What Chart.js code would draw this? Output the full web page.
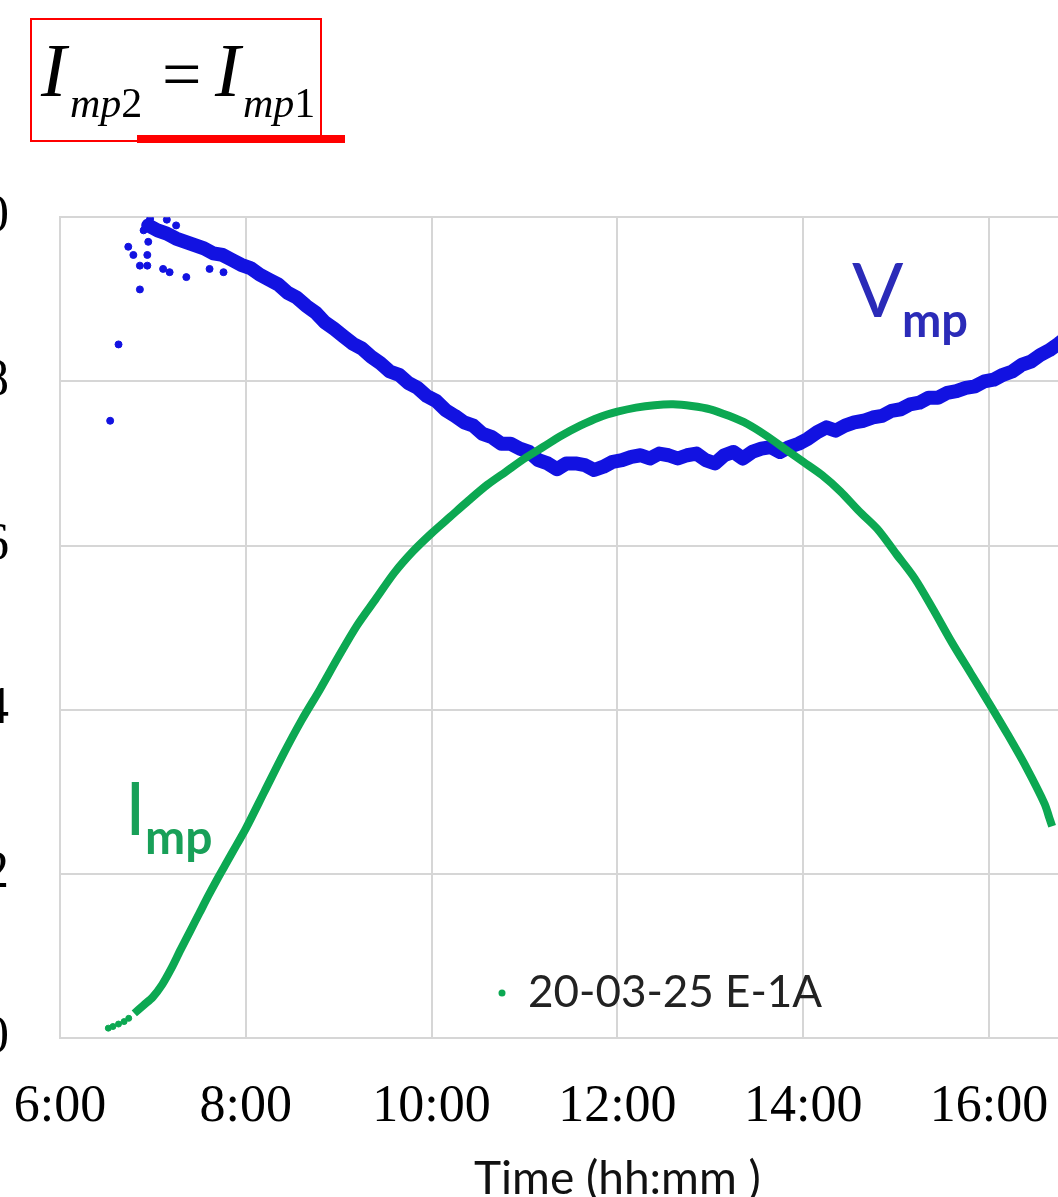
<!DOCTYPE html>
<html>
<head>
<meta charset="utf-8">
<script src="https://cdn.jsdelivr.net/npm/chart.js@4"></script>
<style>
  html, body { margin: 0; padding: 0; background: #fff; overflow: hidden; width: 1058px; height: 1197px; }
  body { position: relative; }
  #c { position: absolute; left: -40px; top: 135px; }
  .t { position: absolute; line-height: 1; white-space: nowrap; }
  .serif { font-family: "Liberation Serif", "DejaVu Serif", serif; color: #000; }
  .sans { font-family: Lato, "Open Sans", sans-serif; }
  #box { position: absolute; left: 30px; top: 18px; width: 288px; height: 120px; border: 2px solid #ff0000; }
  #under { position: absolute; left: 137px; top: 135px; width: 208px; height: 8px; background: #ff0000; }
</style>
</head>
<body>
<canvas id="c" width="1312" height="1103"></canvas>

<div id="box"></div>
<div id="under"></div>
<span class="t serif" style="left:41px; top:32px; font-size:76px; font-style:italic;">I</span>
<span class="t serif" style="left:70px; top:82px; font-size:42px;"><i>mp</i>2</span>
<span class="t serif" style="left:162px; top:40px; font-size:70px;">=</span>
<span class="t serif" style="left:215px; top:32px; font-size:76px; font-style:italic;">I</span>
<span class="t serif" style="left:243px; top:82px; font-size:42px;"><i>mp</i>1</span>

<span class="t sans" style="left:852px; top:250px; font-size:76px; color:#2b2bb8;">V</span>
<span class="t sans" style="left:902px; top:296px; font-size:47px; font-weight:bold; color:#2b2bb8;">mp</span>
<span class="t sans" style="left:125px; top:770px; font-size:74px; color:#18a058;">I</span>
<span class="t sans" style="left:145px; top:812px; font-size:48px; font-weight:bold; color:#18a058;">mp</span>

<script>
// V_mp (blue band), time in decimal hours
const vmpTime = [6.95, 7.05, 7.15, 7.25, 7.35, 7.45, 7.55, 7.65, 7.75, 7.85, 7.95,
  8.05, 8.15, 8.25, 8.35, 8.45, 8.55, 8.65, 8.75, 8.85, 8.95,
  9.05, 9.15, 9.25, 9.35, 9.45, 9.55, 9.65, 9.75, 9.85, 9.95,
  10.05, 10.15, 10.25, 10.35, 10.45, 10.55, 10.65, 10.75, 10.85, 10.95,
  11.05, 11.15, 11.25, 11.35, 11.45, 11.55, 11.65, 11.75, 11.85, 11.95,
  12.05, 12.15, 12.25, 12.35, 12.45, 12.55, 12.65, 12.75, 12.85, 12.95,
  13.05, 13.15, 13.25, 13.35, 13.45, 13.55, 13.65, 13.75, 13.85, 13.95,
  14.05, 14.15, 14.25, 14.35, 14.45, 14.55, 14.65, 14.75, 14.85, 14.95,
  15.05, 15.15, 15.25, 15.35, 15.45, 15.55, 15.65, 15.75, 15.85, 15.95,
  16.05, 16.15, 16.25, 16.35, 16.45, 16.55, 16.65, 16.75, 16.82];
const vmpVolt = [9.9, 9.84, 9.8, 9.74, 9.7, 9.66, 9.62, 9.56, 9.54, 9.48, 9.42,
  9.38, 9.3, 9.24, 9.18, 9.08, 9.02, 8.92, 8.84, 8.72, 8.64,
  8.55, 8.46, 8.4, 8.3, 8.22, 8.12, 8.08, 7.98, 7.92, 7.82,
  7.76, 7.65, 7.58, 7.5, 7.46, 7.36, 7.32, 7.24, 7.24, 7.18,
  7.14, 7.04, 7.0, 6.93, 7.0, 7.0, 6.98, 6.92, 6.96, 7.02,
  7.04, 7.08, 7.1, 7.06, 7.12, 7.1, 7.06, 7.1, 7.12, 7.04,
  7.0, 7.1, 7.14, 7.06, 7.14, 7.18, 7.2, 7.14, 7.2, 7.24,
  7.3, 7.38, 7.44, 7.4, 7.46, 7.5, 7.52, 7.56, 7.58, 7.64,
  7.66, 7.72, 7.74, 7.8, 7.8, 7.86, 7.88, 7.92, 7.94, 8.0,
  8.02, 8.08, 8.12, 8.2, 8.24, 8.32, 8.38, 8.46, 8.52];
// early scattered V_mp points
const vmpLooseTime = [6.54, 6.63, 6.735, 6.79, 6.86, 6.86, 6.9, 6.94, 6.94, 6.95, 6.97,
  7.08, 7.11, 7.15, 7.18, 7.25, 7.36, 7.61, 7.76];
const vmpLooseVolt = [7.52, 8.45, 9.64, 9.54, 9.41, 9.12, 9.84, 9.41, 9.54, 9.7, 9.98,
  9.8, 9.37, 9.97, 9.33, 9.9, 9.27, 9.37, 9.33];

// I_mp (green curve)
const impLabel = '20-03-25 E-1A';
const impTime = [6.8, 6.9, 7.0, 7.1, 7.2, 7.3, 7.4, 7.5, 7.6, 7.7, 7.8, 7.9, 8.0,
  8.2, 8.4, 8.6, 8.8, 9.0, 9.2, 9.4, 9.6, 9.8, 10.0,
  10.2, 10.4, 10.6, 10.8, 11.0, 11.2, 11.4, 11.6, 11.8, 12.0,
  12.2, 12.4, 12.6, 12.8, 13.0, 13.2, 13.4, 13.6, 13.8, 14.0,
  14.2, 14.4, 14.6, 14.8, 15.0, 15.2, 15.4, 15.6, 15.8, 16.0,
  16.2, 16.4, 16.6, 16.65, 16.68];
const impCurr = [0.3, 0.4, 0.5, 0.65, 0.85, 1.08, 1.3, 1.52, 1.74, 1.95, 2.15, 2.35, 2.55,
  3.0, 3.45, 3.87, 4.25, 4.65, 5.03, 5.35, 5.67, 5.93, 6.15,
  6.35, 6.55, 6.74, 6.9, 7.06, 7.2, 7.34, 7.46, 7.56, 7.63,
  7.68, 7.71, 7.72, 7.7, 7.66, 7.58, 7.48, 7.34, 7.18, 7.02,
  6.86, 6.66, 6.42, 6.2, 5.9, 5.6, 5.22, 4.82, 4.45, 4.08,
  3.7, 3.3, 2.85, 2.68, 2.58];
const impLooseTime = [6.52, 6.57, 6.63, 6.69, 6.74];
const impLooseCurr = [0.12, 0.14, 0.17, 0.2, 0.24];

const xMin = 6, xMax = 18, xStep = 2;
const yMin = 0, yMax = 10, yStep = 2;

const blue = 'rgb(18, 18, 225)';
const green = 'rgb(12, 168, 82)';
const gridGray = '#d6d6d6';

function pts(xs, ys) {
  return xs.map((x, i) => ({ x: x, y: ys[i] }));
}

const legendInPlot = {
  id: 'legendInPlot',
  afterDatasetsDraw(chart) {
    const ctx = chart.ctx;
    const area = chart.chartArea;
    const ds = chart.data.datasets.find(d => d.inLegend);
    const y = area.bottom - 45;
    ctx.save();
    ctx.fillStyle = ds.backgroundColor;
    ctx.beginPath();
    ctx.arc(area.left + 442, y, 3.5, 0, Math.PI * 2);
    ctx.fill();
    ctx.fillStyle = '#222';
    ctx.font = '44px Lato, "Open Sans", sans-serif';
    ctx.textBaseline = 'middle';
    ctx.fillText(ds.label, area.left + 468, y);
    ctx.restore();
  }
};

const serifFont = { family: '"Liberation Serif", "DejaVu Serif", serif', size: 52 };

new Chart(document.getElementById('c'), {
  type: 'scatter',
  data: {
    datasets: [
      {
        label: impLabel,
        inLegend: true,
        data: pts(impTime, impCurr),
        showLine: true,
        borderColor: green,
        backgroundColor: green,
        borderWidth: 8,
        pointRadius: 0,
        tension: 0.3
      },
      {
        label: impLabel + ' start',
        data: pts(impLooseTime, impLooseCurr),
        borderColor: green,
        backgroundColor: green,
        pointRadius: 3
      },
      {
        label: 'Vmp',
        data: pts(vmpTime, vmpVolt),
        showLine: true,
        borderColor: blue,
        backgroundColor: blue,
        borderWidth: 14,
        pointRadius: 0,
        borderJoinStyle: 'round',
        borderCapStyle: 'round'
      },
      {
        label: 'Vmp scatter',
        data: pts(vmpLooseTime, vmpLooseVolt),
        borderColor: blue,
        backgroundColor: blue,
        pointRadius: 3.5
      }
    ]
  },
  options: {
    responsive: false,
    animation: false,
    events: [],
    layout: { padding: { top: 50, right: 80, left: 0, bottom: 0 } },
    plugins: {
      legend: { display: false },
      tooltip: { enabled: false }
    },
    scales: {
      x: {
        type: 'linear',
        min: xMin,
        max: xMax,
        afterFit: s => { s.height = 200; },
        ticks: {
          stepSize: xStep,
          padding: 38,
          color: '#000',
          font: serifFont,
          callback: v => v + ':00'
        },
        grid: { color: gridGray, lineWidth: 2, drawTicks: false },
        border: { color: gridGray, width: 2 },
        title: {
          display: true,
          text: 'Time (hh:mm )',
          color: '#111',
          font: { family: 'Lato, "Open Sans", sans-serif', size: 46 },
          padding: { top: 0, bottom: 31 }
        }
      },
      y: {
        min: yMin,
        max: yMax,
        afterFit: s => { s.width = 100; },
        ticks: {
          stepSize: yStep,
          padding: 51,
          color: '#000',
          font: serifFont
        },
        grid: { color: gridGray, lineWidth: 2, drawTicks: false },
        border: { color: gridGray, width: 2 }
      }
    }
  },
  plugins: [legendInPlot]
});
</script>
</body>
</html>
